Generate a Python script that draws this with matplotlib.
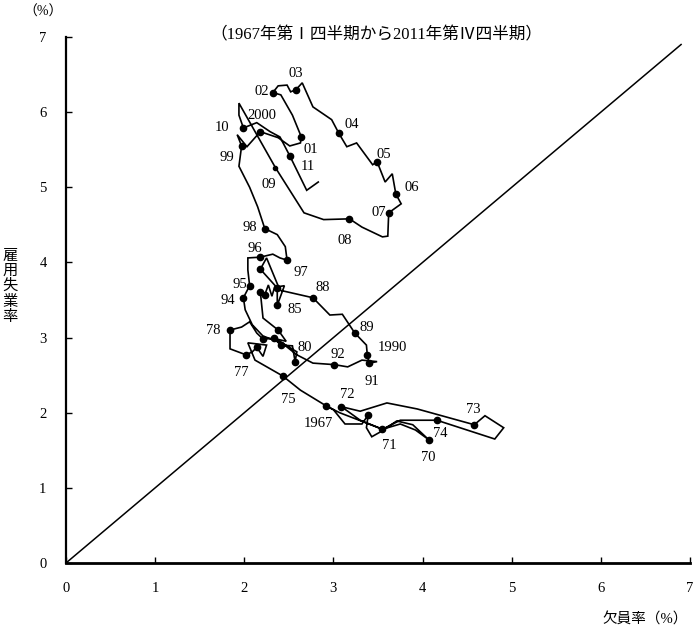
import matplotlib
matplotlib.use("Agg")
import matplotlib.pyplot as plt

plt.rcParams['font.family'] = ['Liberation Serif', 'Noto Sans CJK JP', 'DejaVu Sans']

# 欠員率 (x) と 雇用失業率 (y)、1967年I期から2011年IV期までの軌跡
vac = [2.92, 3.00, 3.13, 3.32, 3.39, 3.37, 3.43, 3.52, 3.71, 3.89,
       4.07, 3.92, 3.75, 3.55, 3.30, 3.09, 3.30, 3.60, 3.94, 4.58,
       4.70, 4.91, 4.81, 4.16, 3.75, 3.55, 3.07, 2.92, 2.63, 2.43,
       2.12, 2.04, 2.25, 2.21, 2.14, 2.09, 2.02, 1.84, 1.84, 1.97,
       2.06, 2.14, 2.21, 2.34, 2.59, 2.57, 2.54, 2.41, 2.33, 2.47,
       2.38, 2.21, 2.18, 2.23, 2.27, 2.31, 2.34, 2.45, 2.37, 2.37,
       2.18, 2.25, 2.40, 2.77, 2.96, 3.10, 3.24, 3.37, 3.38, 3.40,
       3.49, 3.32, 3.16, 3.01, 2.77, 2.59, 2.42, 2.21, 2.09, 2.01,
       1.99, 2.06, 2.04, 2.04, 2.18, 2.32, 2.40, 2.48, 2.46, 2.37,
       2.23, 2.15, 2.06, 1.94, 1.97, 1.92, 2.03, 2.18, 2.38, 2.51,
       2.63, 2.64, 2.54, 2.41, 2.32, 2.38, 2.48, 2.52, 2.58, 2.65,
       2.77, 2.98, 3.06, 3.15, 3.26, 3.44, 3.49, 3.58, 3.66, 3.70,
       3.76, 3.62, 3.61, 3.55, 3.32, 3.18, 2.89, 2.67, 2.35, 1.94,
       1.94, 1.99, 2.14, 2.29, 2.40, 2.51, 2.70, 2.83]
unemp = [2.09, 2.04, 1.85, 1.85, 1.97, 1.80, 1.68, 1.74, 1.89, 1.84,
         1.64, 1.77, 1.85, 1.78, 1.90, 2.08, 2.02, 2.13, 2.05, 1.84,
         1.96, 1.80, 1.65, 1.90, 1.90, 1.78, 2.00, 2.09, 2.30, 2.49,
         2.70, 2.93, 2.90, 2.75, 2.87, 2.81, 2.77, 2.85, 3.10, 3.14,
         3.21, 3.06, 2.98, 2.99, 2.81, 2.68, 2.89, 2.90, 2.99, 2.95,
         3.10, 3.26, 3.61, 3.57, 3.70, 3.55, 3.67, 3.69, 3.43, 3.66,
         3.91, 4.06, 3.63, 3.53, 3.30, 3.31, 3.06, 2.90, 2.77, 2.66,
         2.68, 2.70, 2.61, 2.64, 2.66, 2.77, 2.93, 3.02, 3.17, 3.37,
         3.53, 3.69, 3.90, 4.06, 4.07, 4.11, 4.06, 4.03, 4.21, 4.37,
         4.45, 4.74, 5.00, 5.28, 5.55, 5.70, 5.54, 5.74, 5.66, 5.55,
         5.59, 5.67, 5.96, 6.23, 6.26, 6.35, 6.36, 6.27, 6.30, 6.39,
         6.07, 5.90, 5.72, 5.54, 5.59, 5.30, 5.34, 5.07, 5.18, 4.91,
         4.78, 4.66, 4.35, 4.34, 4.47, 4.58, 4.57, 4.66, 5.26, 6.12,
         5.96, 5.79, 5.86, 5.74, 5.67, 5.42, 4.96, 5.07]

# 年ごとの点 (軌跡上の番号)
dot_idx = [0, 4, 10, 13, 15, 19, 23, 29, 34, 36, 38, 42, 45, 47, 48, 50,
           52, 53, 58, 59, 60, 63, 66, 68, 69, 73, 80, 81, 84, 87, 90, 94,
           97, 101, 104, 108, 112, 116, 119, 121, 125, 128, 131, 135]

# 年ラベル
lab_idx = [0, 10, 13, 15, 19, 23, 29, 36, 38, 45, 58, 63, 66, 68, 69, 73,
           80, 81, 84, 87, 90, 94, 97, 101, 104, 108, 112, 116, 119, 121,
           125, 128, 131, 135]
lab_txt = ['1967', '70', '71', '72', '73', '74', '75', '77', '78', '80',
           '85', '88', '89', '1990', '91', '92', '94', '95', '96', '97',
           '98', '99', '2000', '01', '02', '03', '04', '05', '06', '07',
           '08', '09', '10', '11']
lab_x = [2.83, 4.06, 3.63, 3.15, 4.57, 4.20, 2.49, 1.97, 1.65, 2.68,
         2.57, 2.88, 3.38, 3.66, 3.43, 3.05, 1.81, 1.95, 2.12, 2.63,
         2.06, 1.81, 2.20, 2.75, 2.20, 2.58, 3.20, 3.56, 3.88, 3.51,
         3.13, 2.27, 1.75, 2.71]
lab_y = [1.86, 1.41, 1.56, 2.24, 2.04, 1.73, 2.18, 2.53, 3.09, 2.87,
         3.37, 3.66, 3.13, 2.87, 2.42, 2.77, 3.50, 3.70, 4.19, 3.87,
         4.46, 5.40, 5.95, 5.50, 6.28, 6.51, 5.84, 5.44, 5.00, 4.66,
         4.29, 5.04, 5.79, 5.27]

ticks = [0, 1, 2, 3, 4, 5, 6, 7]
diag = [0, 6.9]

fig = plt.figure(figsize=(6.94, 6.34), dpi=100)
ax = fig.add_axes([66 / 694, 1 - 563 / 634, 624 / 694, 526 / 634])

ax.plot(diag, diag, color='black', lw=1.1)
ax.plot(vac, unemp, color='black', lw=1.2, solid_joinstyle='miter')
ax.plot([vac[i] for i in dot_idx if i != 128], [unemp[i] for i in dot_idx if i != 128],
        'o', color='black', ms=4.5)
ax.plot([vac[128]], [unemp[128]], 'o', color='black', ms=3)

for t, x, y in zip(lab_txt, lab_x, lab_y):
    ax.text(x, y, t, ha='center', va='center', fontsize=10.5)

ax.set_xlim(0, 7)
ax.set_ylim(0, 7)
ax.set_xticks(ticks)
ax.set_yticks(ticks)
ax.tick_params(direction='in', length=4, width=1, labelsize=10.5, pad=14)
for s in ['top', 'right']:
    ax.spines[s].set_visible(False)
ax.spines['left'].set_linewidth(1.6)
ax.spines['bottom'].set_linewidth(2.0)

fig.text(43 / 694, 1 - 12 / 634, '（%）', ha='center', va='center', fontsize=10)
fig.text(376 / 694, 1 - 35 / 634, '（1967年第Ⅰ四半期から2011年第Ⅳ四半期）',
         ha='center', va='center', fontsize=12)
fig.text(10 / 694, 1 - 287 / 634, '\n'.join('雇用失業率'), ha='center', va='center',
         fontsize=11, linespacing=1.15)
fig.text(688 / 694, 1 - 620 / 634, '欠員率（%）', ha='right', va='center', fontsize=10.5)

fig.savefig('out.png', dpi=100)
